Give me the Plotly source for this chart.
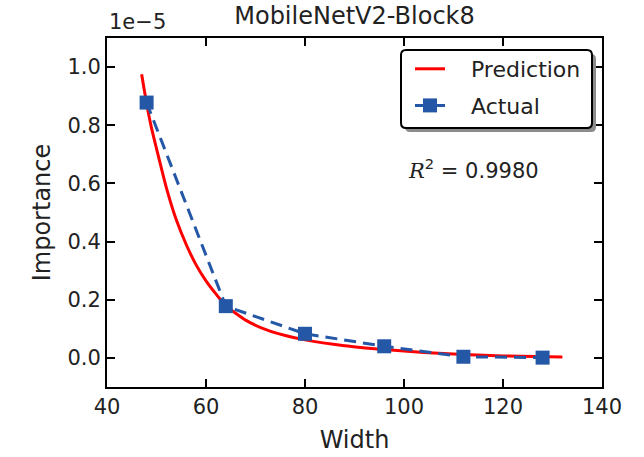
import plotly.graph_objects as go

# ---- data (importance in units of 1e-5) ----
actual_width = [48, 64, 80, 96, 112, 128]
actual_importance = [0.878, 0.178, 0.083, 0.040, 0.004, 0.001]

pred_width = [47, 48, 49, 50, 52, 54, 56, 58, 60, 62, 64, 68, 72, 76, 80, 88, 96, 104, 112, 120, 132]
pred_importance = [0.975, 0.875, 0.79, 0.72, 0.585, 0.475, 0.39, 0.32, 0.265, 0.22, 0.18,
                   0.13, 0.098, 0.077, 0.062, 0.042, 0.029, 0.019, 0.012, 0.007, 0.003]

x_ticks = [40, 60, 80, 100, 120, 140]
y_ticks = [0.0, 0.2, 0.4, 0.6, 0.8, 1.0]
r2_text = "0.9980"

W, H = 644, 457
ML, MR, MT, MB = 107, 42, 38, 70
PW, PH = W - ML - MR, H - MT - MB

def px(xp):
    return (xp - ML) / PW

def py(yp):
    return (H - MB - yp) / PH

FONT = "DejaVu Sans"
RED = "#ff0000"
BLUE = "#2457a6"
PAD = "\u00a0\u00a0\u00a0"

fig = go.Figure()
fig.add_trace(go.Scatter(
    x=pred_width, y=pred_importance, mode="lines", name=PAD + "Prediction",
    legendgroup="pred",
    line=dict(color=RED, width=3, shape="spline", smoothing=0.6),
))
fig.add_trace(go.Scatter(
    x=actual_width, y=actual_importance, mode="lines+markers", name=PAD + "Actual",
    legendgroup="act",
    line=dict(color=BLUE, width=3, dash="12px,7px"),
    marker=dict(symbol="square", size=14, color=BLUE),
))

# legend frame (rounded, with shadow)
def rrect(x0, y0, x1, y1, r):
    rx = r / PW
    ry = r / PH
    X0, X1 = px(x0), px(x1)
    Y0, Y1 = py(y0), py(y1)  # Y0 top, Y1 bottom
    return (f"M {X0+rx},{Y0} L {X1-rx},{Y0} Q {X1},{Y0} {X1},{Y0-ry} "
            f"L {X1},{Y1+ry} Q {X1},{Y1} {X1-rx},{Y1} L {X0+rx},{Y1} "
            f"Q {X0},{Y1} {X0},{Y1+ry} L {X0},{Y0-ry} Q {X0},{Y0} {X0+rx},{Y0} Z")

shapes = [
    dict(type="path", xref="paper", yref="paper", path=rrect(405, 54, 596, 132, 5),
         fillcolor="#8c8c8c", line=dict(width=0), layer="above"),
    dict(type="path", xref="paper", yref="paper", path=rrect(401, 50, 592, 128, 5),
         fillcolor="white", line=dict(color="black", width=2), layer="above"),
]

annotations = [
    dict(xref="paper", yref="paper", x=0, y=1, xanchor="left", yanchor="bottom",
         yshift=2, text="1e\u22125", showarrow=False, font=dict(family=FONT, size=21, color="#222")),
    dict(xref="x", yref="y", x=114.0, y=0.65, xanchor="center", yanchor="middle",
         text='<span style="font-family:DejaVu Serif"><i>R</i></span><sup>2</sup> = ' + r2_text,
         showarrow=False, font=dict(family=FONT, size=21, color="#222")),
]

fig.update_layout(
    width=W, height=H,
    margin=dict(l=ML, r=MR, t=MT, b=MB, autoexpand=False),
    paper_bgcolor="white", plot_bgcolor="white",
    font=dict(family=FONT, size=21, color="#222"),
    title=dict(text="MobileNetV2-Block8", x=(ML + PW / 2) / W, xanchor="center",
               y=1 - 16 / H, yanchor="middle", font=dict(size=24, family=FONT, color="#222")),
    showlegend=True,
    legend=dict(x=px(410), y=py(48), xanchor="left", yanchor="top", tracegroupgap=5,
                bgcolor="rgba(0,0,0,0)", borderwidth=0, font=dict(size=22, family=FONT, color="#222")),
    shapes=shapes,
    annotations=annotations,
)
fig.update_xaxes(
    range=[40, 140], tickvals=x_ticks, ticktext=[str(v) for v in x_ticks],
    showgrid=False, zeroline=False, showline=True, linecolor="black", linewidth=2,
    mirror="ticks", ticks="inside", ticklen=8, tickwidth=1.5, tickcolor="black",
    automargin=False,
    title=dict(text="Width", font=dict(size=24, family=FONT, color="#222"), standoff=13),
)
fig.update_yaxes(
    range=[-0.1, 1.1], tickvals=y_ticks, ticktext=[f"{v:.1f}" for v in y_ticks],
    showgrid=False, zeroline=False, showline=True, linecolor="black", linewidth=2,
    mirror="ticks", ticks="inside", ticklen=8, tickwidth=1.5, tickcolor="black",
    automargin=False,
    title=dict(text="Importance", font=dict(size=24, family=FONT, color="#222"), standoff=10),
)

fig.write_html("out.html")
